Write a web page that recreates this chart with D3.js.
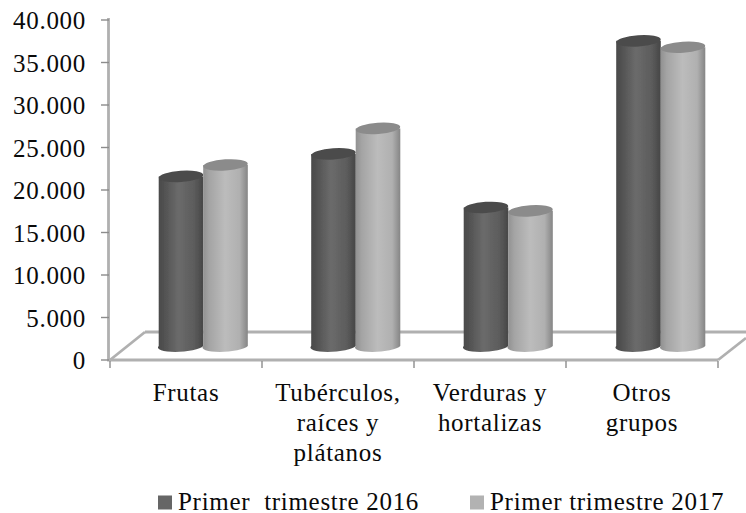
<!DOCTYPE html>
<html><head><meta charset="utf-8">
<script src="https://cdn.jsdelivr.net/npm/d3@7"></script>
<style>html,body{margin:0;background:#fff}svg{display:block}text{font-family:"Liberation Serif",serif;fill:#0a0a0a;letter-spacing:.7px}</style>
</head><body><div id="c"></div>
<script>
const categories=[["Frutas"],["Tubérculos,","raíces y","plátanos"],["Verduras y","hortalizas"],["Otros","grupos"]];
const series2016=[19950,22600,16300,35900];
const series2017=[21300,25600,15900,35150];
const seriesNames=["Primer  trimestre 2016","Primer trimestre 2017"];
const tickValues=[0,5000,10000,15000,20000,25000,30000,35000,40000];
const tickLabels=["0","5.000","10.000","15.000","20.000","25.000","30.000","35.000","40.000"];

const W=746,H=513;
const svg=d3.select("#c").append("svg").attr("width",W).attr("height",H).attr("viewBox",[0,0,W,H]);
const defs=svg.append("defs");
const grad=(id,stops)=>{const g=defs.append("linearGradient").attr("id",id);
  stops.forEach(([o,c])=>g.append("stop").attr("offset",o).attr("stop-color",c));};
grad("dark",[[0,"#4a4a4a"],[.12,"#505050"],[.45,"#6b6b6b"],[.8,"#5c5c5c"],[1,"#464646"]]);
grad("light",[[0,"#8f8f8f"],[.15,"#a4a4a4"],[.5,"#bcbcbc"],[.82,"#b0b0b0"],[1,"#858585"]]);
defs.append("filter").attr("id","soft").append("feGaussianBlur").attr("stdDeviation",.6);

const y=d3.scaleLinear().domain([0,40000]).range([360,20]);
const xAxisScale=d3.scaleBand().domain(categories.map((d,i)=>i)).range([110,718]);
const xBar=d3.scaleBand().domain(categories.map((d,i)=>i)).range([127,737]);
const xS=d3.scaleBand().domain([0,1]).range([0,89]);
const depthY=14, rx=22.3, ry=5.6, tilt=-4;
const axisCol="#b0b0b0";

const floor=svg.append("g").attr("fill","none").attr("stroke",axisCol).attr("stroke-width",2.8).attr("filter","url(#soft)");
floor.append("path").attr("d","M145,332H746");
floor.append("path").attr("d","M110,360L145,332");
floor.append("path").attr("d","M718,360L746,338");
floor.append("path").attr("d","M108.5,18V360H718");
const tickCol="#8c8c8c";
const tg=svg.append("g").attr("stroke",tickCol).attr("stroke-width",1.4);
tg.selectAll("line.y").data(tickValues).join("line").attr("class","y")
  .attr("x1",101).attr("x2",109).attr("y1",d=>y(d)).attr("y2",d=>y(d));
const xTicks=d3.range(5).map(i=>i===4?xAxisScale.range()[1]:xAxisScale(i));
tg.selectAll("line.x").data(xTicks).join("line").attr("class","x")
  .attr("x1",d=>d).attr("x2",d=>d).attr("y1",361).attr("y2",368);

svg.append("g").attr("font-size",25).attr("text-anchor","end").selectAll("text").data(tickValues).join("text")
  .attr("x",86).attr("y",(d)=>y(d)+9).text((d,i)=>tickLabels[i]);

const marks=svg.append("g").attr("filter","url(#soft)");
const cyl=(vals,s,grd,topCol)=>vals.forEach((v,i)=>{
  const x0=xBar(i)+xBar.bandwidth()/2-44.5+xS(s), cx=x0+xS.bandwidth()/2;
  const top=y(v)-depthY, base=y(0)-depthY;
  const g=marks.append("g");
  g.append("path").attr("fill",`url(#${grd})`)
   .attr("d",`M${cx-rx},${top}L${cx-rx},${base}A${rx},${ry} ${tilt} 0 0 ${cx+rx},${base}L${cx+rx},${top}Z`);
  g.append("ellipse").attr("cx",cx).attr("cy",top).attr("rx",rx).attr("ry",ry)
   .attr("transform",`rotate(${tilt} ${cx} ${top})`).attr("fill",topCol);
});
cyl(series2016,0,"dark","#4c4c4c");
cyl(series2017,1,"light","#8b8b8b");

const lab=svg.append("g").attr("font-size",25).attr("text-anchor","middle");
categories.forEach((lines,i)=>{
  const cx=xAxisScale(i)+xAxisScale.bandwidth()/2;
  const t=lab.append("text").attr("x",cx);
  lines.forEach((l,j)=>t.append("tspan").attr("x",cx).attr("y",401+j*30).text(l));
});

const leg=svg.append("g").attr("font-size",25);
[[158,"#666666"],[470,"#b2b2b2"]].forEach(([x,c],i)=>{
  leg.append("rect").attr("x",x).attr("y",495.5).attr("width",14).attr("height",14).attr("fill",c);
  leg.append("text").attr("x",x+20).attr("y",510).style("white-space","pre").text(seriesNames[i]);
});
</script></body></html>
